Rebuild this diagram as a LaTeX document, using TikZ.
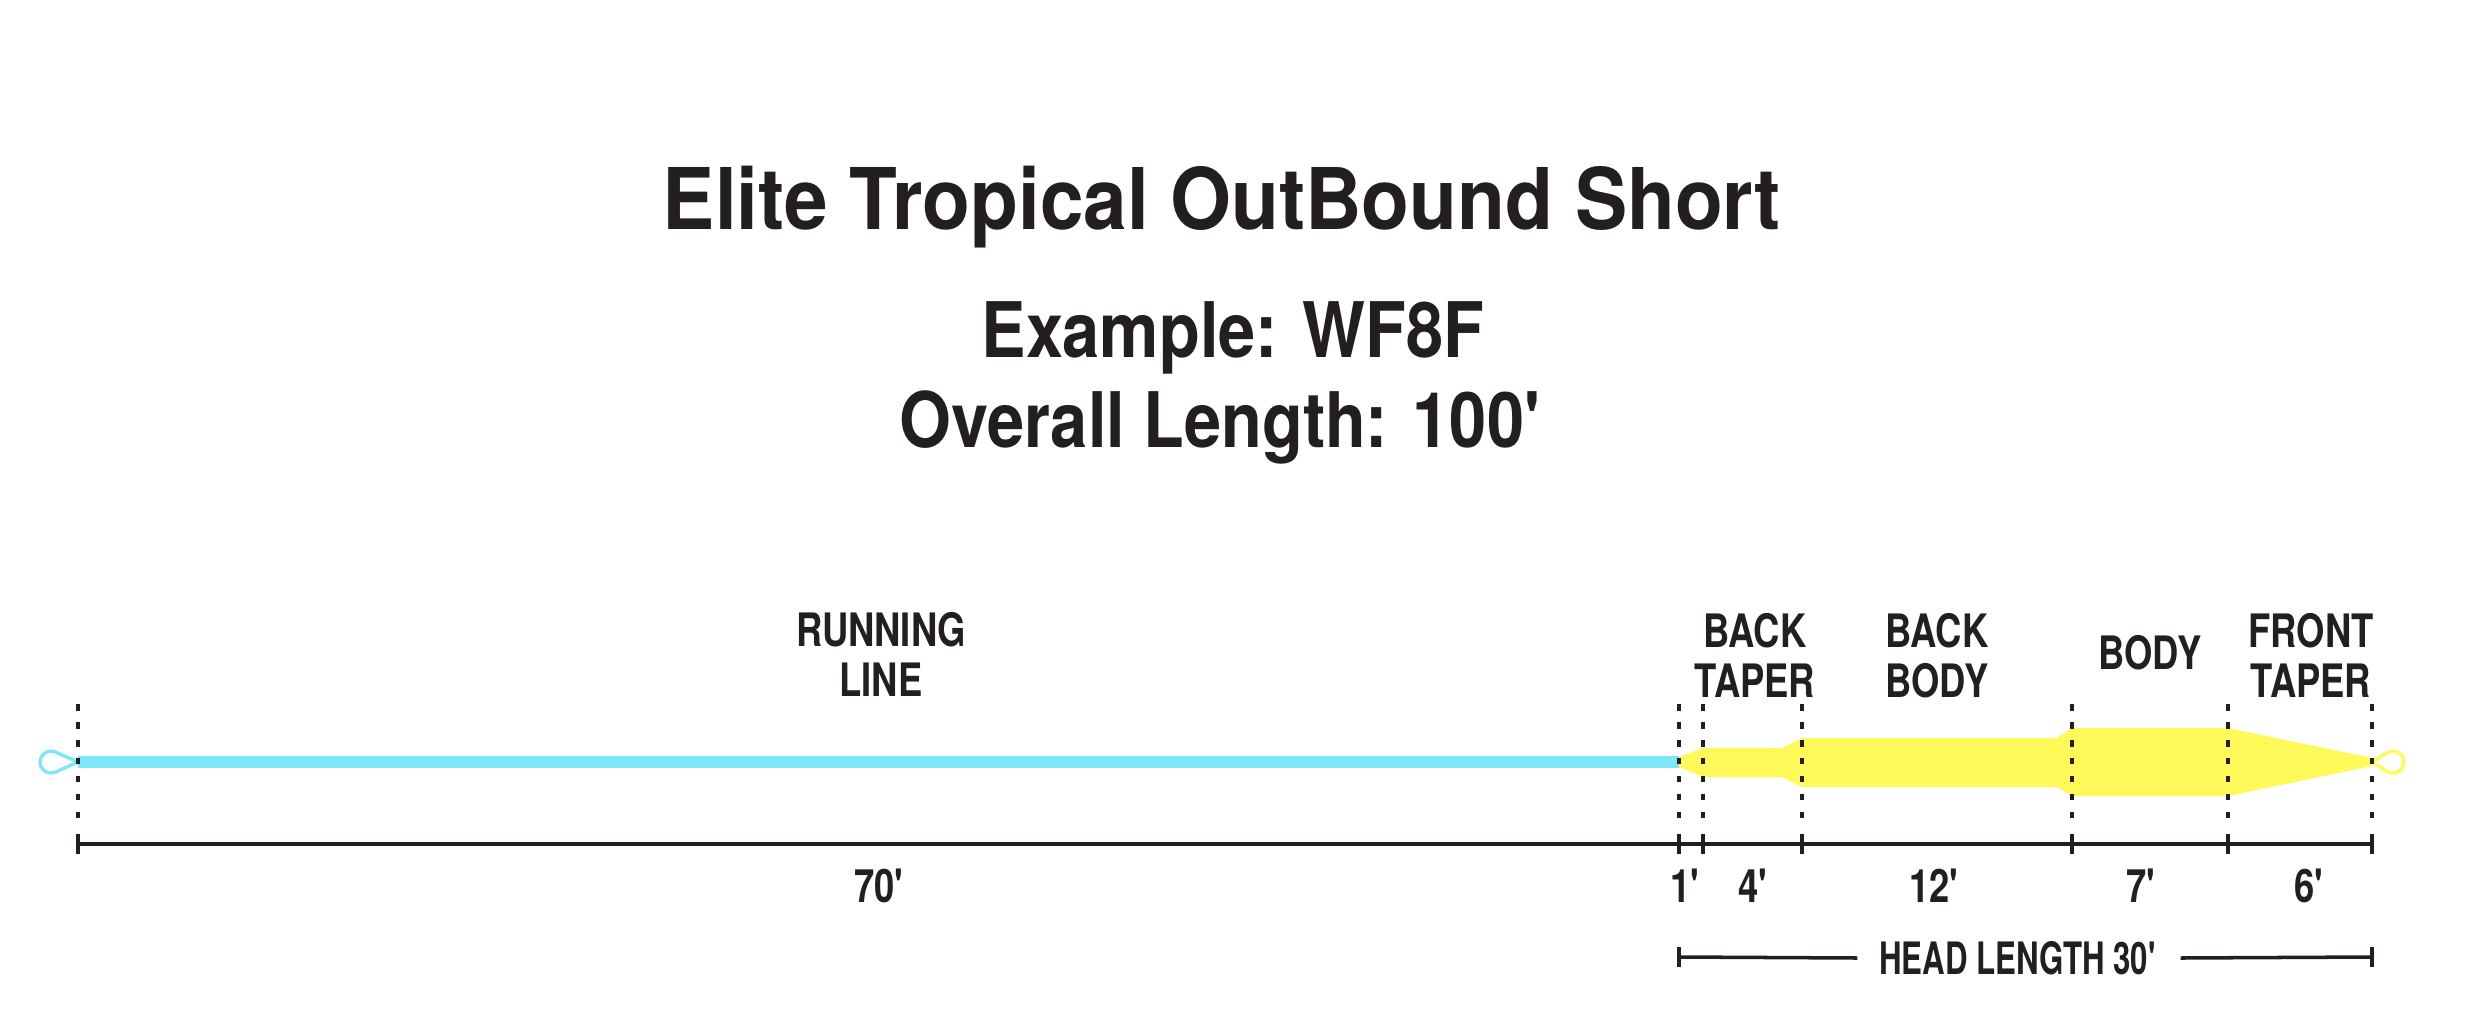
\documentclass[tikz,border=0pt]{standalone}
\usepackage{fontspec}
\newfontfamily\titlefont{TeX Gyre Heros}[FakeStretch=0.92]
\newfontfamily\subfont{TeX Gyre Heros}[FakeStretch=0.87]
\newfontfamily\labelfont{TeX Gyre Heros}[FakeStretch=0.79]
\newfontfamily\headfont{TeX Gyre Heros}[FakeStretch=0.70]
\definecolor{runblue}{HTML}{7DE6F9}
\definecolor{headyellow}{HTML}{FFFA5A}
\definecolor{ink}{HTML}{231F20}
\newcommand{\ft}{\textquotesingle}

\begin{document}
\begin{tikzpicture}[x=0.01cm,y=-0.01cm,
    titlelbl/.style={anchor=base,inner sep=0pt,text=ink,font=\titlefont\bfseries\fontsize{24.2}{29}\selectfont},
    sublbl/.style={anchor=base,inner sep=0pt,text=ink,font=\subfont\bfseries\fontsize{21.8}{26}\selectfont},
    lbl/.style={anchor=north,inner sep=0pt,align=center,text=ink,font=\labelfont\bfseries\fontsize{13.1}{14.2}\selectfont},
    headlbl/.style={inner ysep=0pt,inner xsep=6pt,text=ink,font=\headfont\bfseries\fontsize{12.7}{15}\selectfont},
    dashline/.style={ink,line width=1.34pt,dash pattern=on 1.9pt off 3.2pt},
    barline/.style={ink,line width=1pt},
    tick/.style={ink,line width=1.34pt},
    loopline/.style={line width=0.95pt,line join=round}]
  \useasboundingbox (0,0) rectangle (2479,1021);

  % section ends along the line
  \coordinate (d0) at (78,762);
  \coordinate (d1) at (1679,762);
  \coordinate (d2) at (1703,762);
  \coordinate (d3) at (1802,762);
  \coordinate (d4) at (2072,762);
  \coordinate (d5) at (2228,762);
  \coordinate (d6) at (2372,762);
  \coordinate (dtop) at (0,704);
  \coordinate (dbot) at (0,822);
  \coordinate (sbar) at (0,844);
  \coordinate (hbar) at (0,957);

  % titles
  \node[titlelbl] (title) at (1222,229) {Elite Tropical OutBound Short};
  \node[sublbl] (example) at (1233,357) {Example: WF8F};
  \node[sublbl] (overall) at (1221,447) {Overall Length: 100\ft};

  % the line itself
  \draw[runblue,line width=3.2pt] (d0) -- (d1);
  \draw[runblue,loopline] (d0) -- ++(-22.5,-10) arc[start angle=-66,end angle=-294,radius=11] -- cycle;
  \fill[headyellow] (1679,757) -- (1703,748) -- (1782,748) -- (1802,738) -- (2057,738)
    -- (2072,728) -- (2228,728) -- (2372,758) -- (2372,766) -- (2228,796) -- (2072,796)
    -- (2057,787) -- (1802,787) -- (1782,777) -- (1703,777) -- (1679,767) -- cycle;
  \draw[headyellow,loopline] (d6) -- ++(15.2,-9.3) arc[start angle=-122,end angle=122,radius=11] -- cycle;

  % section labels
  \node[lbl] (running) at (881,612) {RUNNING\\LINE};
  \node[lbl] (backtaper) at (1755,613) {BACK\\TAPER};
  \node[lbl] (backbody) at (1937,613) {BACK\\BODY};
  \node[lbl] (body) at (2150,635) {BODY};
  \node[lbl] (fronttaper) at (2311,613) {FRONT\\TAPER};

  % dashed marks and length scale
  \foreach \i in {0,...,6} {
    \draw[dashline] (d\i |- dtop) -- (d\i |- dbot);
    \draw[tick] (d\i |- sbar) ++(0,-10) -- ++(0,20);
  }
  \draw[barline] (d0 |- sbar) -- (d6 |- sbar);

  \node[lbl] (l70) at (880,868) {70\ft};
  \node[lbl] (l1) at (1686,868) {1\ft};
  \node[lbl] (l4) at (1754,868) {4\ft};
  \node[lbl] (l12) at (1935,868) {12\ft};
  \node[lbl] (l7) at (2142,868) {7\ft};
  \node[lbl] (l6) at (2310,868) {6\ft};

  % head length
  \node[headlbl] (head) at (2019,958) {HEAD LENGTH 30\ft};
  \draw[barline] (d1 |- hbar) -- (head.west);
  \draw[barline] (head.east) -- (d6 |- hbar);
  \draw[tick] (d1 |- hbar) ++(0,-10) -- ++(0,20);
  \draw[tick] (d6 |- hbar) ++(0,-10) -- ++(0,20);
\end{tikzpicture}
\end{document}
